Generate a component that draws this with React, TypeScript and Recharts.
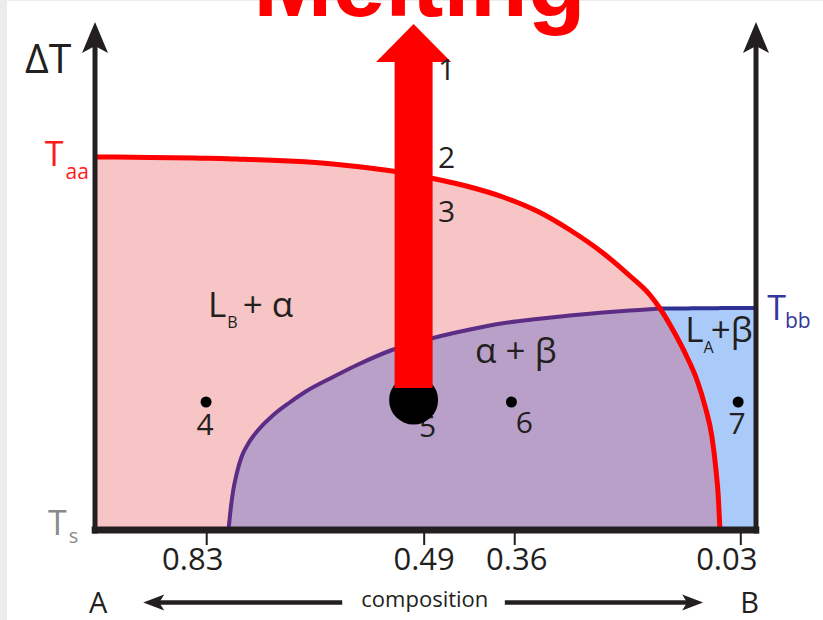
import React from "react";
import { ComposedChart, Area, Line, XAxis, YAxis, ReferenceLine, ReferenceDot } from "recharts";

// x = position along the composition axis (0 = A-side axis, 100 = B-side axis)
// y = undercooling ΔT (0 = Ts, 100 = top of the plot)
const positions = [0, 8.32, 15.89, 20.2, 20.57, 20.92, 21.44, 22.19, 23.19, 24.7, 26.73, 29.24, 31.77, 36.01, 39.64, 44.93, 51.13, 56.73, 61.72, 66.87, 71.86, 76.85, 80.94, 83.96, 85.48, 87.44, 89.56, 91.07, 92.28, 93.34, 93.95, 94.3, 94.55, 100];
const liquidusA = [74.6, 74.52, 74.36, 74.24, 74.22, 74.2, 74.18, 74.16, 74.12, 74.06, 73.96, 73.82, 73.64, 73.2, 72.7, 71.8, 70.3, 68.6, 66.6, 63.8, 60.0, 55.4, 50.8, 47.0, 44.3, 40.0, 34.6, 30.0, 24.8, 18.6, 12.0, 6.6, 0, null];
const solvus = [null, null, null, 0, 4.7, 8.0, 11.3, 14.7, 17.3, 20.0, 22.7, 25.3, 27.6, 30.6, 33.0, 36.0, 38.4, 40.1, 41.35, 42.2, 42.9, 43.5, 43.9, 44.15, 44.3, null, null, null, null, null, null, null, null, null];
const liquidusB = [null, null, null, null, null, null, null, null, null, null, null, null, null, null, null, null, null, null, null, null, null, null, null, null, 44.3, 44.3, 44.32, 44.34, 44.35, 44.36, 44.37, 44.37, 44.38, 44.4];

const tickPositions = [16.9, 49.8, 63.5, 97.7];
const tickLabels = ["0.83", "0.49", "0.36", "0.03"];
const tickShift = [-14, 0, 2, -14];

const pointNames = ["4", "5", "6", "7"];
const pointX = [16.8, 48.2, 63.0, 97.3];
const pointY = [25.6, 26.0, 25.6, 25.6];
const pointR = [5.5, 24.5, 5.5, 5.5];
const pointLabelOffset = [[-1, 33], [14, 37], [13, 31], [-1, 32]];

const stepNames = ["1", "2", "3"];
const stepY = [90.0, 72.4, 61.6];
const stepX = 53.2;

const rows = positions.map((x, i) => {
  const edge = solvus[i] ?? liquidusB[i];
  const red = liquidusA[i];
  return {
    x,
    red,
    purple: solvus[i],
    blue: liquidusB[i],
    blueFill: edge,
    mixFill: red != null && edge != null ? Math.min(red, edge) : null,
  };
});

const FONT = "'Open Sans', 'Noto Sans', sans-serif";
const INK = "#231f20";

const txt = (content: React.ReactNode, style: any = {}) => (p: any) => (
  <text x={p.cx} y={p.cy} fontFamily={FONT} fill={INK} fontSize={30} {...style}>
    {content}
  </text>
);

const upHead = (p: any) => (
  <polygon points={`${p.cx},${p.cy} ${p.cx + 13},${p.cy + 31} ${p.cx},${p.cy + 24} ${p.cx - 13},${p.cy + 31}`} fill={INK} />
);
const leftHead = (p: any) => (
  <polygon points={`${p.cx},${p.cy} ${p.cx + 21},${p.cy - 8} ${p.cx + 16},${p.cy} ${p.cx + 21},${p.cy + 8}`} fill={INK} />
);
const rightHead = (p: any) => (
  <polygon points={`${p.cx},${p.cy} ${p.cx - 21},${p.cy - 8} ${p.cx - 16},${p.cy} ${p.cx - 21},${p.cy + 8}`} fill={INK} />
);
const meltHead = (p: any) => (
  <polygon points={`${p.cx},${p.cy} ${p.cx + 37.5},${p.cy + 38} ${p.cx - 37.5},${p.cy + 38}`} fill="#ff0000" />
);

const CompTick = (props: any) => {
  const { x, y, payload } = props;
  const i = tickPositions.indexOf(payload.value);
  return (
    <text x={x + (tickShift[i] ?? 0)} y={y} dy={23} textAnchor="middle" fontFamily={FONT} fontSize={31} fill={INK}>
      {tickLabels[i]}
    </text>
  );
};

export default function App() {
  return (
    <div style={{ width: 823, height: 620, background: "#fff", boxShadow: "inset 7px 1px 0 #ececec" }}>
      <style>{"body{margin:0}"}</style>
      <ComposedChart width={823} height={620} data={rows} margin={{ top: 30, right: 67, left: 95, bottom: 0 }}>
        <XAxis
          dataKey="x"
          type="number"
          domain={[0, 100]}
          allowDataOverflow
          ticks={tickPositions}
          interval={0}
          height={90}
          axisLine={false}
          tickLine={{ stroke: INK, strokeWidth: 2 }}
          tickSize={15}
          tick={<CompTick />}
        />
        <YAxis type="number" domain={[0, 100]} allowDataOverflow hide />

        <Area dataKey="red" type="monotone" fill="#f8c5c6" fillOpacity={1} stroke="none" isAnimationActive={false} zIndex={100} />
        <Area dataKey="blueFill" type="monotone" fill="#aacbfa" fillOpacity={1} stroke="none" isAnimationActive={false} zIndex={101} />
        <Area dataKey="mixFill" type="monotone" fill="#b9a0c8" fillOpacity={1} stroke="none" isAnimationActive={false} zIndex={102} />

        <Line dataKey="purple" type="monotone" stroke="#5c2d84" strokeWidth={4} dot={false} activeDot={false} isAnimationActive={false} zIndex={400} />
        <Line dataKey="blue" type="monotone" stroke="#2e3192" strokeWidth={4} dot={false} activeDot={false} isAnimationActive={false} zIndex={401} />
        <Line dataKey="red" type="monotone" stroke="#ff0000" strokeWidth={5} dot={false} activeDot={false} isAnimationActive={false} zIndex={402} />

        {/* axes */}
        <ReferenceLine segment={[{ x: -0.5, y: 0 }, { x: 100.5, y: 0 }]} stroke={INK} strokeWidth={7} ifOverflow="visible" zIndex={600} />
        <ReferenceLine segment={[{ x: 0, y: -0.7 }, { x: 0, y: 97 }]} stroke={INK} strokeWidth={5} ifOverflow="visible" zIndex={600} />
        <ReferenceLine segment={[{ x: 100, y: -0.7 }, { x: 100, y: 97 }]} stroke={INK} strokeWidth={5} ifOverflow="visible" zIndex={600} />
        <ReferenceDot x={0} y={101.6} shape={upHead} ifOverflow="visible" zIndex={600} />
        <ReferenceDot x={100} y={101.6} shape={upHead} ifOverflow="visible" zIndex={600} />

        {/* composition arrows */}
        <ReferenceLine segment={[{ x: 37.4, y: -14.5 }, { x: 9.5, y: -14.5 }]} stroke={INK} strokeWidth={4.5} ifOverflow="visible" zIndex={600} />
        <ReferenceLine segment={[{ x: 62.0, y: -14.5 }, { x: 90.0, y: -14.5 }]} stroke={INK} strokeWidth={4.5} ifOverflow="visible" zIndex={600} />
        <ReferenceDot x={7.3} y={-14.5} shape={leftHead} ifOverflow="visible" zIndex={600} />
        <ReferenceDot x={92.0} y={-14.5} shape={rightHead} ifOverflow="visible" zIndex={600} />

        {/* texts */}
        <ReferenceDot x={-10.6} y={91.4} shape={txt("ΔT", { fontSize: 41 })} ifOverflow="visible" zIndex={700} />
        <ReferenceDot
          x={-7.6}
          y={72.8}
          shape={txt(<>T<tspan fontSize={21} dx={2} dy={13}>aa</tspan></>, { fontSize: 34, fill: "#ff1a1a" })}
          ifOverflow="visible"
          zIndex={700}
        />
        <ReferenceDot
          x={-7.1}
          y={-1.0}
          shape={txt(<>T<tspan fontSize={20} dx={2} dy={8}>s</tspan></>, { fontSize: 34, fill: "#8a8a8a" })}
          ifOverflow="visible"
          zIndex={700}
        />
        <ReferenceDot
          x={101.7}
          y={42}
          shape={txt(<>T<tspan fontSize={21} dx={-1} dy={8}>bb</tspan></>, { fontSize: 34, fill: "#34389a" })}
          ifOverflow="visible"
          zIndex={700}
        />
        <ReferenceDot
          x={17.1}
          y={42.6}
          shape={txt(<>L<tspan fontSize={16} dx={1} dy={11}>B</tspan><tspan dx={5} dy={-11}>+ α</tspan></>, { fontSize: 35 })}
          ifOverflow="visible"
          zIndex={700}
        />
        <ReferenceDot x={57.5} y={33.4} shape={txt("α + β", { fontSize: 35 })} ifOverflow="visible" zIndex={700} />
        <ReferenceDot
          x={89.3}
          y={37.6}
          shape={txt(<>L<tspan fontSize={16} dx={0} dy={11}>A</tspan><tspan dx={-3} dy={-11}>+β</tspan></>, { fontSize: 35 })}
          ifOverflow="visible"
          zIndex={700}
        />
        <ReferenceDot x={-0.9} y={-16.6} shape={txt("A", { fontSize: 29 })} ifOverflow="visible" zIndex={700} />
        <ReferenceDot x={97.6} y={-16.6} shape={txt("B", { fontSize: 29 })} ifOverflow="visible" zIndex={700} />
        <ReferenceDot x={49.9} y={-15.4} shape={txt("composition", { fontSize: 22, textAnchor: "middle" })} ifOverflow="visible" zIndex={700} />

        {/* points */}
        {pointNames.map((n, i) => (
          <ReferenceDot
            key={"l" + n}
            x={pointX[i]}
            y={pointY[i]}
            shape={txt(n, { textAnchor: "middle", dx: pointLabelOffset[i][0], dy: pointLabelOffset[i][1] })}
            ifOverflow="visible"
            zIndex={800}
          />
        ))}
        {pointNames.map((n, i) => (
          <ReferenceDot key={"p" + n} x={pointX[i]} y={pointY[i]} r={pointR[i]} fill="#000" stroke="none" ifOverflow="visible" zIndex={810} />
        ))}

        {/* melting arrow */}
        <ReferenceLine segment={[{ x: 48.2, y: 28.4 }, { x: 48.2, y: 94 }]} stroke="#ff0000" strokeWidth={38} ifOverflow="visible" zIndex={900} />
        <ReferenceDot x={48.2} y={101.2} shape={meltHead} ifOverflow="visible" zIndex={900} />
        <ReferenceDot
          x={49.1}
          y={102.8}
          shape={txt("Melting", { fontSize: 95, fontWeight: 700, fill: "#ff0000", textAnchor: "middle", fontFamily: "'Liberation Sans', Arial, sans-serif" })}
          ifOverflow="visible"
          zIndex={900}
        />
        {stepNames.map((s, i) => (
          <ReferenceDot key={"s" + s} x={stepX} y={stepY[i]} shape={txt(s, { textAnchor: "middle" })} ifOverflow="visible" zIndex={950} />
        ))}
      </ComposedChart>
    </div>
  );
}
